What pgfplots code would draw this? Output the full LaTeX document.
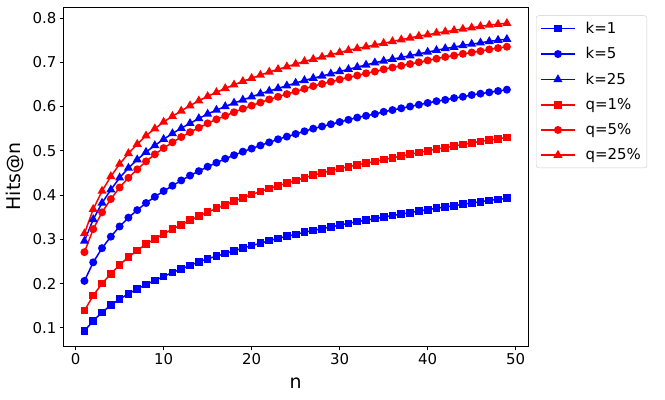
\documentclass[border=0pt]{standalone}
\usepackage{pgfplots}
\pgfplotsset{compat=1.18}
\usepackage{pgfplotstable}
\usepackage{fontspec}
\setmainfont{DejaVu Sans}
\definecolor{mblue}{RGB}{0,0,255}
\definecolor{mred}{RGB}{255,0,0}
\pgfplotstableread{
n k1 k5 k25 q1 q5 q25
1 0.093 0.206 0.296 0.139 0.271 0.313
2 0.116 0.248 0.345 0.173 0.323 0.368
3 0.135 0.280 0.382 0.200 0.361 0.409
4 0.151 0.306 0.412 0.222 0.391 0.442
5 0.165 0.329 0.439 0.242 0.417 0.470
6 0.177 0.349 0.461 0.260 0.439 0.494
7 0.188 0.366 0.480 0.275 0.458 0.515
8 0.198 0.382 0.497 0.289 0.476 0.534
9 0.207 0.396 0.512 0.301 0.492 0.550
10 0.216 0.409 0.526 0.312 0.506 0.565
11 0.225 0.421 0.539 0.323 0.519 0.578
12 0.233 0.433 0.551 0.333 0.531 0.590
13 0.241 0.444 0.562 0.343 0.542 0.602
14 0.249 0.454 0.573 0.352 0.552 0.613
15 0.256 0.464 0.583 0.361 0.562 0.623
16 0.262 0.473 0.592 0.370 0.571 0.632
17 0.268 0.482 0.600 0.378 0.579 0.641
18 0.274 0.490 0.608 0.386 0.587 0.649
19 0.280 0.498 0.615 0.394 0.595 0.657
20 0.286 0.505 0.622 0.401 0.602 0.664
21 0.291 0.512 0.629 0.408 0.609 0.671
22 0.297 0.519 0.635 0.415 0.616 0.678
23 0.302 0.526 0.641 0.421 0.622 0.684
24 0.307 0.532 0.647 0.427 0.628 0.690
25 0.311 0.538 0.653 0.433 0.634 0.696
26 0.316 0.544 0.659 0.439 0.640 0.702
27 0.320 0.550 0.664 0.445 0.646 0.707
28 0.324 0.555 0.669 0.450 0.651 0.712
29 0.328 0.560 0.674 0.455 0.656 0.717
30 0.332 0.565 0.679 0.460 0.661 0.722
31 0.336 0.570 0.684 0.464 0.666 0.727
32 0.340 0.575 0.689 0.468 0.670 0.731
33 0.343 0.579 0.694 0.472 0.675 0.735
34 0.347 0.583 0.699 0.476 0.679 0.739
35 0.350 0.588 0.703 0.480 0.684 0.743
36 0.354 0.592 0.707 0.484 0.688 0.747
37 0.357 0.596 0.711 0.488 0.692 0.751
38 0.360 0.600 0.715 0.492 0.696 0.755
39 0.364 0.604 0.719 0.496 0.700 0.759
40 0.367 0.608 0.723 0.500 0.704 0.762
41 0.370 0.612 0.727 0.504 0.708 0.766
42 0.373 0.615 0.731 0.507 0.712 0.769
43 0.376 0.619 0.734 0.511 0.715 0.772
44 0.379 0.622 0.738 0.514 0.719 0.775
45 0.382 0.626 0.741 0.518 0.722 0.778
46 0.385 0.629 0.744 0.521 0.725 0.781
47 0.388 0.632 0.747 0.524 0.729 0.784
48 0.390 0.635 0.750 0.527 0.732 0.786
49 0.393 0.638 0.752 0.530 0.735 0.788
}\datatable
\begin{document}
\begin{tikzpicture}
\begin{axis}[
  name=ax,
  scale only axis,
  width=464.7bp, height=339bp,
  xmin=-1.4, xmax=51.4,
  ymin=0.059, ymax=0.8248,
  xtick={0,10,20,30,40,50},
  ytick={0.1,0.2,0.3,0.4,0.5,0.6,0.7,0.8},
  yticklabel style={/pgf/number format/fixed,/pgf/number format/precision=1,/pgf/number format/fixed zerofill},
  /pgf/number format/assume math mode=true,
  tick pos=left,
  tick align=outside,
  major tick length=3.5bp,
  every tick/.style={black, line width=0.8bp},
  axis line style={black, line width=0.8bp},
  ticklabel style={font=\fontsize{15}{18}\selectfont},
  xlabel={n}, ylabel={Hits@n},
  every axis x label/.style={at={([yshift=-37bp]axis description cs:0.5,0)}, anchor=center, font=\fontsize{19}{22}\selectfont},
  every axis y label/.style={at={([xshift=-48bp]axis description cs:0,0.5)}, anchor=center, rotate=90, font=\fontsize{19}{22}\selectfont},
  legend style={at={(1,1)}, anchor=north west, xshift=8bp, yshift=-8.5bp,
    draw=black!20, rounded corners=2.5bp, font=\fontsize{15}{18}\selectfont,
    row sep=8.6bp, inner xsep=4bp, inner ysep=4.5bp,
    /tikz/every odd column/.append style={column sep=8bp}},
  legend cell align=left,
  legend image code/.code={\draw[mark repeat=2,mark phase=2] plot coordinates {(0bp,0bp) (17bp,0bp) (34bp,0bp)};},
  every axis plot/.append style={line width=1.5bp},
]
\addplot[mblue, mark=square*, mark size=3.1bp, mark options={solid}] table[x=n,y=k1] {\datatable};
\addlegendentry{k=1}
\addplot[mblue, mark=*, mark size=3.2bp] table[x=n,y=k5] {\datatable};
\addlegendentry{k=5}
\addplot[mblue, mark=triangle*, mark size=3.8bp] table[x=n,y=k25] {\datatable};
\addlegendentry{k=25}
\addplot[mred, mark=square*, mark size=3.1bp] table[x=n,y=q1] {\datatable};
\addlegendentry{q=1\%}
\addplot[mred, mark=*, mark size=3.2bp] table[x=n,y=q5] {\datatable};
\addlegendentry{q=5\%}
\addplot[mred, mark=triangle*, mark size=3.8bp] table[x=n,y=q25] {\datatable};
\addlegendentry{q=25\%}
\end{axis}
\pgfresetboundingbox
\path ([xshift=-63.3bp,yshift=-54bp]ax.south west) rectangle ([xshift=137bp,yshift=7bp]ax.north east);
\end{tikzpicture}
\end{document}
